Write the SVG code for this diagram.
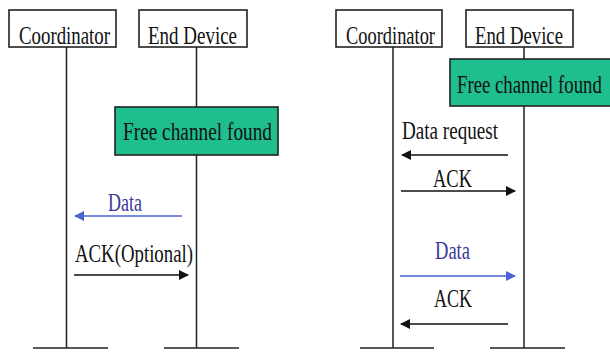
<svg xmlns="http://www.w3.org/2000/svg" width="610" height="352" viewBox="0 0 610 352">
  <style>
    .lbl { font-family: "Liberation Serif", "Times New Roman", serif; font-size: 26px; fill: #111; }
    .blue { fill: #3a3a9a; }
    .box { fill: #fff; stroke: #222; stroke-width: 1.6; }
    .event { fill: #1fbe8e; stroke: #222; stroke-width: 1.6; }
    .life { stroke: #222; stroke-width: 1.5; fill: none; }
    .msg { stroke: #111; stroke-width: 1.6; fill: none; }
    .msg-blue { stroke: #4b63d6; stroke-width: 1.4; fill: none; }
  </style>
  <defs>
    <marker id="head" viewBox="0 0 10 10" refX="9" refY="5" markerWidth="10" markerHeight="11" markerUnits="userSpaceOnUse" orient="auto">
      <path d="M0,0 L10,5 L0,10 Z" fill="#111"/>
    </marker>
    <marker id="head-blue" viewBox="0 0 10 10" refX="9" refY="5" markerWidth="10" markerHeight="11" markerUnits="userSpaceOnUse" orient="auto">
      <path d="M0,0 L10,5 L0,10 Z" fill="#4b63d6"/>
    </marker>
  </defs>
  <rect width="610" height="352" fill="#fff"/>

  <!-- lifelines and feet -->
  <g id="lifelines">
    <path class="life" d="M66.5,47 V348 M33,348 H108"/>
    <path class="life" d="M196.5,47 V348 M164,348 H239"/>
    <path class="life" d="M393,47 V348 M360,348 H434"/>
    <path class="life" d="M524,47 V348 M490,348 H565"/>
  </g>

  <!-- left scenario -->
  <g id="left-coordinator">
    <rect class="box" x="9" y="10" width="107" height="37"/>
    <text class="lbl" x="19" y="44" textLength="91" lengthAdjust="spacingAndGlyphs">Coordinator</text>
  </g>
  <g id="left-end-device">
    <rect class="box" x="139" y="10" width="108" height="37"/>
    <text class="lbl" x="148" y="44" textLength="89" lengthAdjust="spacingAndGlyphs">End Device</text>
  </g>
  <g id="left-free-channel">
    <rect class="event" x="115" y="107" width="163" height="48"/>
    <text class="lbl" x="123" y="140" textLength="149" lengthAdjust="spacingAndGlyphs">Free channel found</text>
  </g>

  <!-- right scenario -->
  <g id="right-coordinator">
    <rect class="box" x="336" y="10" width="106" height="37"/>
    <text class="lbl" x="346" y="44" textLength="89" lengthAdjust="spacingAndGlyphs">Coordinator</text>
  </g>
  <g id="right-end-device">
    <rect class="box" x="466" y="10" width="107" height="37"/>
    <text class="lbl" x="475" y="44" textLength="88" lengthAdjust="spacingAndGlyphs">End Device</text>
  </g>
  <g id="right-free-channel">
    <!-- runs to the right edge of the canvas -->
    <rect class="event" x="450" y="59" width="162" height="47"/>
    <text class="lbl" transform="translate(457,93) scale(0.722,1)">Free channel found</text>
  </g>

  <!-- messages -->
  <g id="connectors">
    <path class="msg-blue" d="M182,216 H75" marker-end="url(#head-blue)"/>
    <path class="msg" d="M74,275 H188" marker-end="url(#head)"/>
    <path class="msg" d="M508,155 H402" marker-end="url(#head)"/>
    <path class="msg" d="M401,191 H515" marker-end="url(#head)"/>
    <path class="msg-blue" d="M400,276 H515" marker-end="url(#head-blue)"/>
    <path class="msg" d="M508,324 H401" marker-end="url(#head)"/>
  </g>

  <g id="message-labels">
    <text class="lbl blue" x="108" y="211" textLength="34" lengthAdjust="spacingAndGlyphs">Data</text>
    <text class="lbl" x="75" y="262" textLength="118" lengthAdjust="spacingAndGlyphs">ACK(Optional)</text>
    <text class="lbl" x="402" y="139" textLength="96" lengthAdjust="spacingAndGlyphs">Data request</text>
    <text class="lbl" x="433" y="187" textLength="39" lengthAdjust="spacingAndGlyphs">ACK</text>
    <text class="lbl blue" x="435" y="259" textLength="35" lengthAdjust="spacingAndGlyphs">Data</text>
    <text class="lbl" x="434" y="307" textLength="38" lengthAdjust="spacingAndGlyphs">ACK</text>
  </g>
</svg>
